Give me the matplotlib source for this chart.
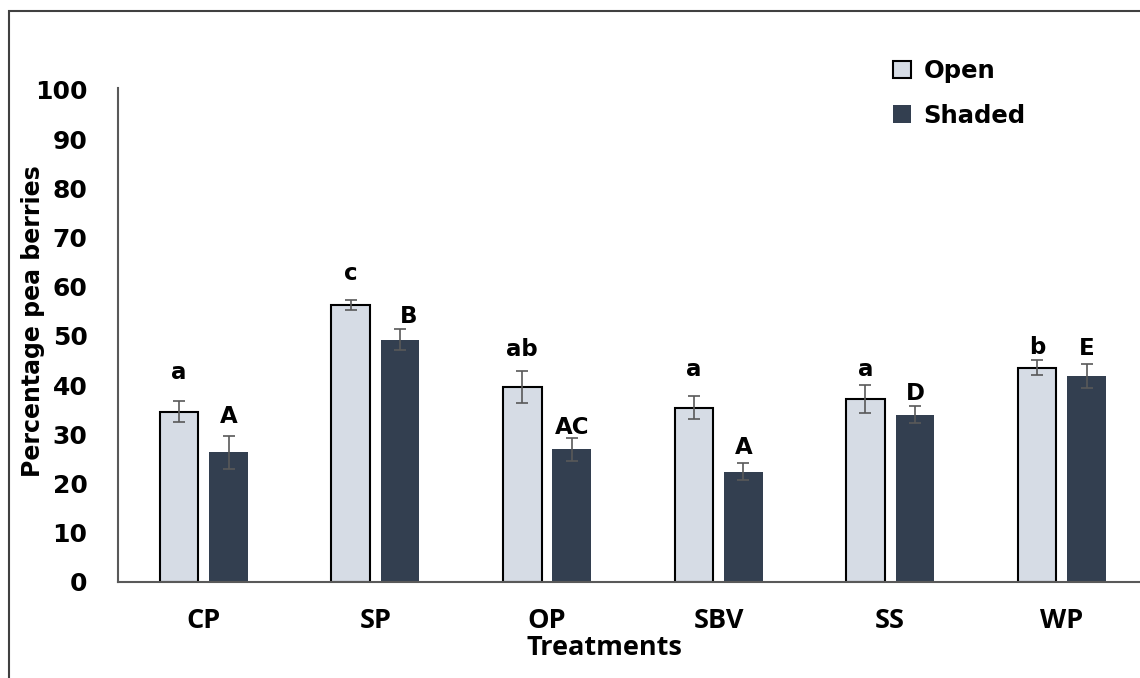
import matplotlib.pyplot as plt
from matplotlib.patches import Rectangle, Patch
import numpy as np

# data
treatments = ["CP", "SP", "OP", "SBV", "SS", "WP"]
open_vals = [34.6, 56.2, 39.6, 35.4, 37.1, 43.5]
open_err = [2.2, 1.0, 3.2, 2.4, 2.8, 1.5]
shaded_vals = [26.3, 49.2, 26.9, 22.4, 34.0, 41.8]
shaded_err = [3.4, 2.1, 2.4, 1.7, 1.7, 2.4]

# significance letters and where they sit (y in data units)
open_letters = ["a", "c", "ab", "a", "a", "b"]
open_letter_y = [42.5, 62.6, 47.3, 43.1, 43.1, 47.6]
shaded_letters = ["A", "B", "AC", "A", "D", "E"]
shaded_letter_y = [33.6, 53.9, 31.4, 27.3, 38.2, 47.4]

open_col = "#D6DCE5"
shaded_col = "#333F50"
err_col = "#595959"
bold = dict(fontweight="bold", family="DejaVu Sans")

W, H = 1140, 678
fig = plt.figure(figsize=(W / 100, H / 100), dpi=100)
fig.patches.append(Rectangle((9 / W, -0.1), 1.2, 1 - 11 / H + 0.1, transform=fig.transFigure,
                             fill=False, edgecolor="#404040", linewidth=1.5))

ax = fig.add_axes([118 / W, 96.3 / H, 1029.6 / W, 493.7 / H])
x = np.arange(len(treatments))
w = 0.225
off = 0.144
ekw = dict(ecolor=err_col, elinewidth=1.2, capsize=4, capthick=1.2)

ax.bar(x - off, open_vals, w, yerr=open_err, color=open_col, edgecolor="black",
       linewidth=1.5, error_kw=ekw, zorder=2)
ax.bar(x + off, shaded_vals, w, yerr=shaded_err, color=shaded_col, linewidth=0,
       error_kw=ekw, zorder=2)

for i in range(len(treatments)):
    ax.text(x[i] - off, open_letter_y[i], open_letters[i], ha="center", va="center",
            fontsize=16.5, **bold)
    dx = 0.05 if shaded_letters[i] == "B" else 0
    ax.text(x[i] + off + dx, shaded_letter_y[i], shaded_letters[i], ha="center", va="center",
            fontsize=16.5, **bold)

ax.set_xlim(-0.5, 5.5)
ax.set_ylim(0, 100.4)
ax.set_yticks(np.arange(0, 101, 10))
ax.set_yticklabels([str(v) for v in range(0, 101, 10)], fontsize=18, **bold)
ax.set_xticks(x)
ax.set_xticklabels(treatments, fontsize=19.5, fontweight="bold", family="Open Sans")
ax.tick_params(axis="y", length=0, pad=22)
ax.tick_params(axis="x", length=0, pad=19)

for s in ["top", "right"]:
    ax.spines[s].set_visible(False)
for s in ["left", "bottom"]:
    ax.spines[s].set_color("#595959")
    ax.spines[s].set_linewidth(1.5)

ax.set_ylabel("Percentage pea berries", fontsize=17, **bold)
ax.yaxis.set_label_coords(-0.071, 0.527)
ax.set_xlabel("Treatments", fontsize=19.5, fontweight="bold", family="Open Sans")
ax.xaxis.set_label_coords(0.472, -0.108)

handles = [Patch(facecolor=open_col, edgecolor="black", linewidth=1.5, label="Open"),
           Patch(facecolor=shaded_col, edgecolor="none", label="Shaded")]
fig.legend(handles=handles, loc="upper left", bbox_to_anchor=(893 / W, 1 - 59 / H),
           frameon=False, prop=dict(size=17.5, weight="bold", family="DejaVu Sans"),
           handlelength=0.75, handleheight=0.75, handletextpad=0.5, labelspacing=0.85,
           borderpad=0, borderaxespad=0)

fig.savefig("out.png", dpi=100)
